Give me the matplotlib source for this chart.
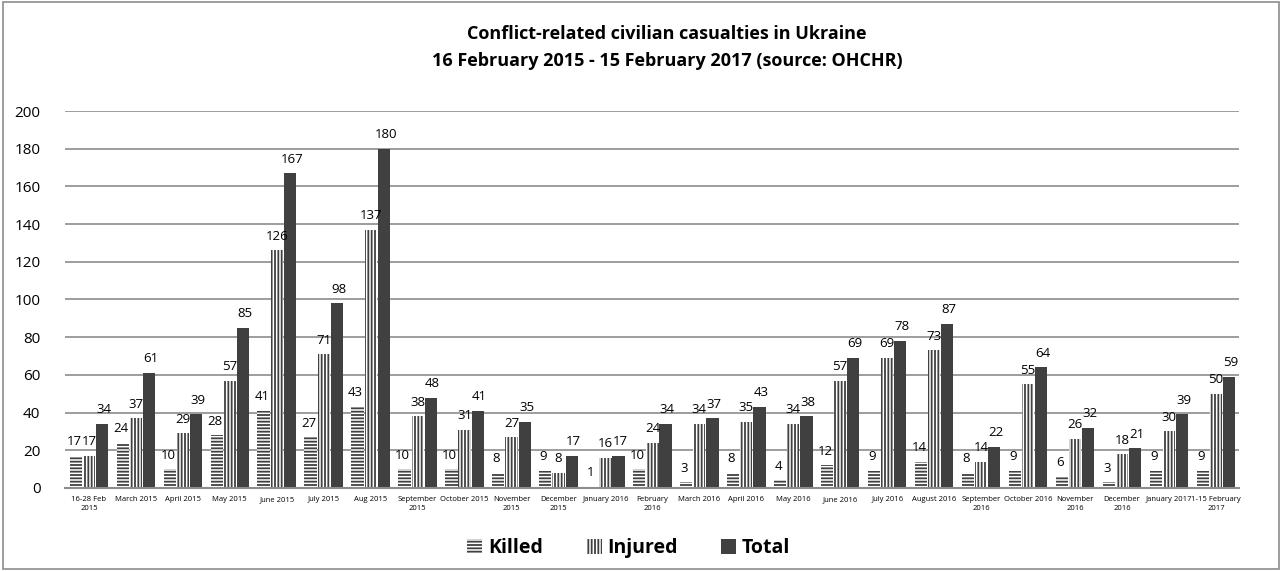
import matplotlib
matplotlib.use("Agg")
import matplotlib.pyplot as plt
import numpy as np
from matplotlib.patches import Rectangle

categories = ["16-28 Feb\n2015", "March 2015", "April 2015", "May 2015", "June 2015",
              "July 2015", "Aug 2015", "September\n2015", "October 2015", "November\n2015",
              "December\n2015", "January 2016", "February\n2016", "March 2016", "April 2016",
              "May 2016", "June 2016", "July 2016", "August 2016", "September\n2016",
              "October 2016", "November\n2016", "December\n2016", "January 2017",
              "1-15 February\n2017"]
killed = [17, 24, 10, 28, 41, 27, 43, 10, 10, 8, 9, 1, 10, 3, 8, 4, 12, 9, 14, 8, 9, 6, 3, 9, 9]
injured = [17, 37, 29, 57, 126, 71, 137, 38, 31, 27, 8, 16, 24, 34, 35, 34, 57, 69, 73, 14, 55, 26, 18, 30, 50]
total = [34, 61, 39, 85, 167, 98, 180, 48, 41, 35, 17, 17, 34, 37, 43, 38, 69, 78, 87, 22, 64, 32, 21, 39, 59]
yticks = [0, 20, 40, 60, 80, 100, 120, 140, 160, 180, 200]

plt.rcParams['font.family'] = ['Open Sans', 'DejaVu Sans']
plt.rcParams['hatch.linewidth'] = 1.3

fig = plt.figure(figsize=(12.83, 5.71), dpi=100)
ax = fig.add_axes([0.051, 0.1454, 0.915, 0.6602])

x = np.arange(len(categories))
w = 0.26
dark = '#404040'
b1 = ax.bar(x - w - 0.02, killed, w, facecolor='white', edgecolor=dark, hatch='-----', linewidth=0, label='Killed')
b2 = ax.bar(x, injured, w, facecolor='white', edgecolor=dark, hatch='|||||', linewidth=0, label='Injured')
b3 = ax.bar(x + w + 0.02, total, w, facecolor=dark, edgecolor=dark, linewidth=0, label='Total')

for bars, vals, dx in ((b1, killed, -0.04), (b2, injured, 0.0), (b3, total, 0.04)):
    for r, v in zip(bars, vals):
        ax.text(r.get_x() + r.get_width() / 2 + dx, v + 4, str(v), ha='center', va='bottom',
                fontsize=9.5, color='black')

ax.set_xlim(-0.5, len(categories) - 0.5)
ax.set_ylim(0, 200)
ax.set_yticks(yticks)
ax.set_yticklabels([str(t) for t in yticks], fontsize=11)
ax.yaxis.grid(True, color='#8c8c8c', linewidth=1.2)
ax.set_axisbelow(True)
ax.set_xticks(x)
ax.set_xticklabels(categories, fontsize=5.5, linespacing=1.4)
ax.tick_params(axis='both', length=0)
ax.tick_params(axis='y', pad=18)
ax.tick_params(axis='x', pad=6)
for s in ['top', 'right', 'left']:
    ax.spines[s].set_visible(False)
ax.spines['bottom'].set_color('#8c8c8c')
ax.spines['bottom'].set_linewidth(1.5)

fig.text(0.52, 0.94, "Conflict-related civilian casualties in Ukraine", ha='center', va='center',
         fontsize=13, fontweight='bold')
fig.text(0.52, 0.893, "16 February 2015 - 15 February 2017 (source: OHCHR)", ha='center', va='center',
         fontsize=13, fontweight='bold')

leg = fig.legend(handles=[b1, b2, b3], loc='center', bbox_to_anchor=(0.49, 0.04), ncol=3,
                 frameon=False, prop={'size': 14, 'weight': 'bold'}, handlelength=0.8,
                 handleheight=0.8, handletextpad=0.3, columnspacing=2.2)

fig.patches.append(Rectangle((0.002, 0.003), 0.995, 0.994, transform=fig.transFigure,
                             fill=False, edgecolor='#8c8c8c', linewidth=1.2))

fig.savefig("out.png", dpi=100, facecolor='white')
